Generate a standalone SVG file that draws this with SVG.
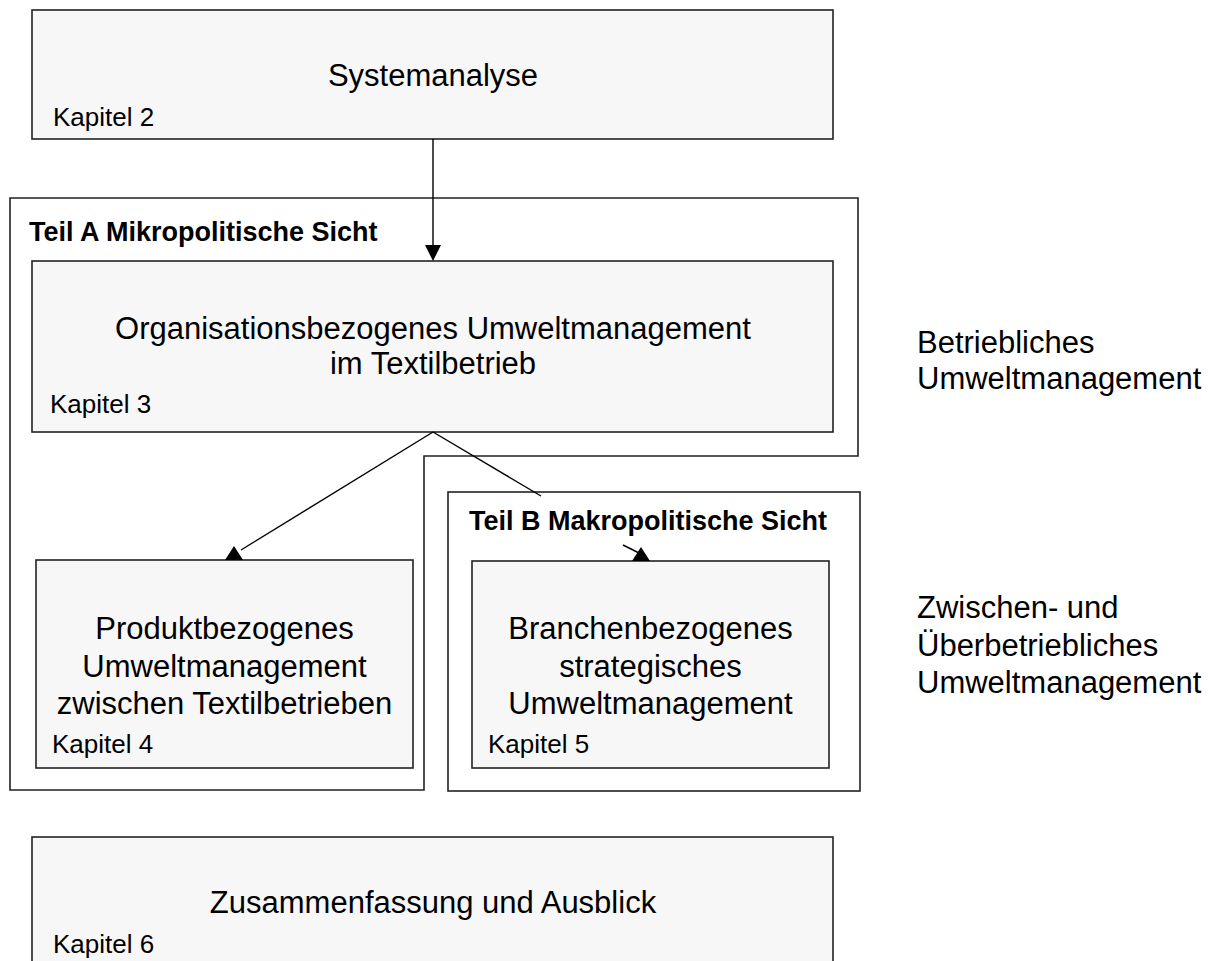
<svg xmlns="http://www.w3.org/2000/svg" width="1210" height="961" viewBox="0 0 1210 961">
<style>
.box{fill:#f7f7f7;stroke:#222;stroke-width:1.6}
.frame{fill:none;stroke:#222;stroke-width:1.6}
.main{font-family:"Liberation Sans",Arial,sans-serif;font-size:31px;fill:#000;text-anchor:middle}
.side{font-family:"Liberation Sans",Arial,sans-serif;font-size:31px;fill:#000}
.kap{font-family:"Liberation Sans",Arial,sans-serif;font-size:26px;fill:#000}
.teil{font-family:"Liberation Sans",Arial,sans-serif;font-size:27px;font-weight:bold;fill:#000}
.conn{stroke:#000;stroke-width:1.4;fill:none}
.head{fill:#000}
</style>
<defs>
<path id="triUp" d="M0,-14 L9,0 L-9,0 Z"/>
<path id="triDown" d="M0,0 L8,-16 L-8,-16 Z"/>
</defs>
<rect width="1210" height="961" fill="#fff"/>

<g id="teilA">
<path class="frame" d="M10,198 H858 V456 H424 V790 H10 Z"/>
<text class="teil" x="29" y="241">Teil A Mikropolitische Sicht</text>
</g>

<g id="teilB">
<rect class="frame" x="448" y="492" width="412" height="299"/>
<text class="teil" x="469" y="530">Teil B Makropolitische Sicht</text>
</g>

<g id="systemanalyse">
<rect class="box" x="32" y="10" width="801" height="129"/>
<text class="main" x="433" y="86">Systemanalyse</text>
<text class="kap" x="53" y="126">Kapitel 2</text>
</g>

<g id="organisation">
<rect class="box" x="32" y="261" width="801" height="171"/>
<text class="main" x="433" y="339">Organisationsbezogenes Umweltmanagement</text>
<text class="main" x="433" y="374">im Textilbetrieb</text>
<text class="kap" x="50" y="413">Kapitel 3</text>
</g>

<g id="produkt">
<rect class="box" x="36" y="560" width="377" height="208"/>
<text class="main" x="224.5" y="639">Produktbezogenes</text>
<text class="main" x="224.5" y="677">Umweltmanagement</text>
<text class="main" x="224.5" y="714">zwischen Textilbetrieben</text>
<text class="kap" x="52" y="753">Kapitel 4</text>
</g>

<g id="branchen">
<rect class="box" x="472" y="561" width="357" height="207"/>
<text class="main" x="650.5" y="639">Branchenbezogenes</text>
<text class="main" x="650.5" y="677">strategisches</text>
<text class="main" x="650.5" y="714">Umweltmanagement</text>
<text class="kap" x="488" y="753">Kapitel 5</text>
</g>

<g id="zusammenfassung">
<rect class="box" x="32" y="837" width="801" height="140"/>
<text class="main" x="433" y="913">Zusammenfassung und Ausblick</text>
<text class="kap" x="53" y="953">Kapitel 6</text>
</g>

<g id="label-betrieblich">
<text class="side" x="917" y="353">Betriebliches</text>
<text class="side" x="917" y="389">Umweltmanagement</text>
</g>

<g id="label-zwischen">
<text class="side" x="917" y="618">Zwischen- und</text>
<text class="side" x="917" y="656">Überbetriebliches</text>
<text class="side" x="917" y="693">Umweltmanagement</text>
</g>

<g id="connectors">
<line class="conn" x1="433" y1="139" x2="433" y2="247"/>
<use href="#triDown" class="head" x="433" y="261"/>
<line class="conn" x1="433" y1="432" x2="241" y2="550"/>
<use href="#triUp" class="head" x="234" y="560"/>
<line class="conn" x1="433" y1="432" x2="541" y2="496"/>
<line class="conn" x1="623" y1="545" x2="641" y2="554"/>
<use href="#triUp" class="head" x="641" y="561"/>
</g>
</svg>
